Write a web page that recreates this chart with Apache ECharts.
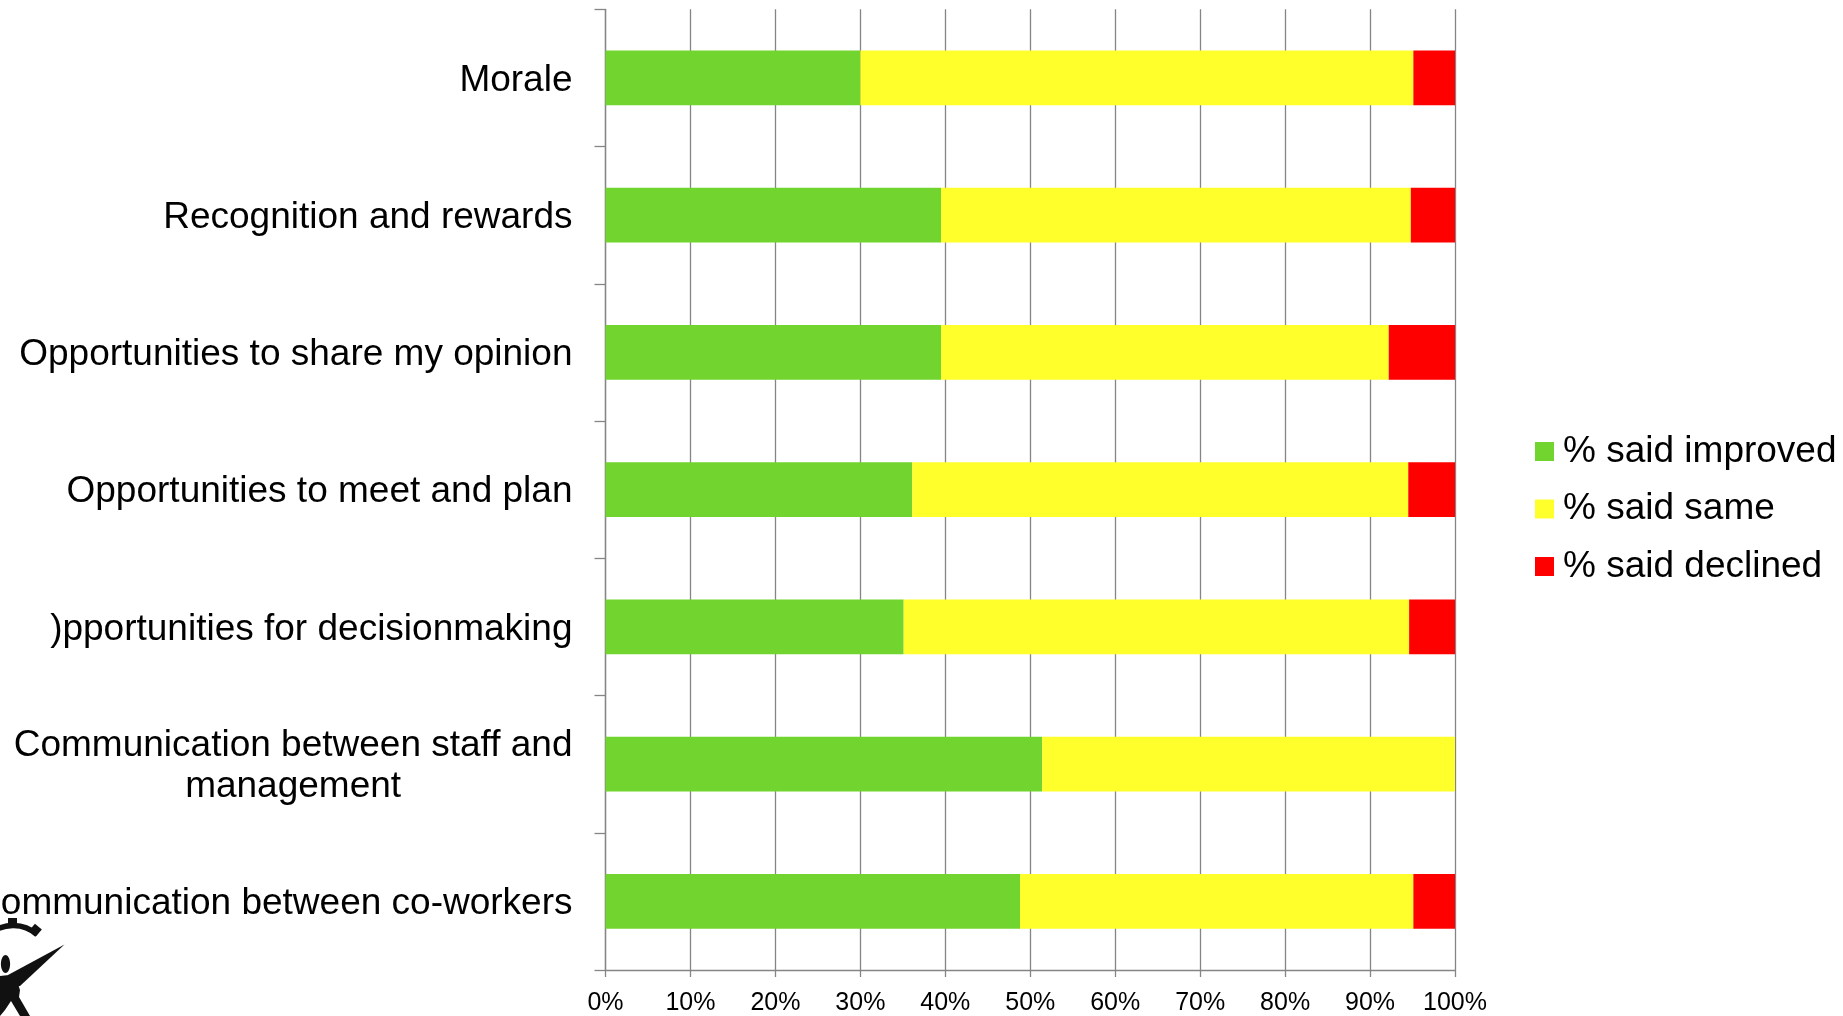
<!DOCTYPE html>
<html>
<head>
<meta charset="utf-8">
<title>Workplace change survey</title>
<script src="https://cdn.jsdelivr.net/npm/echarts@6/dist/echarts.min.js"></script>
<style>
  html, body { margin: 0; padding: 0; background: #ffffff; }
  #chart { width: 1843px; height: 1016px; }
</style>
</head>
<body>
<div id="chart"></div>
<script>
// Survey topics, top to bottom
const categories = [
  'Morale',
  'Recognition and rewards',
  'Opportunities to share my opinion',
  'Opportunities to meet and plan',
  ')pportunities for decisionmaking',
  'Communication between staff and\nmanagement',
  'Communication between co-workers'
];

// Share of respondents per answer (%)
const improved = [30.0, 39.5, 39.5, 36.1, 35.1, 51.4, 48.8];
const same     = [65.1, 55.3, 52.7, 58.4, 59.5, 48.6, 46.3];
const declined = [4.9, 5.2, 7.8, 5.5, 5.4, 0, 4.9];

const seriesNames = ['% said improved', '% said same', '% said declined'];
const xTicks = [0, 10, 20, 30, 40, 50, 60, 70, 80, 90, 100];

const FONT = '"Liberation Sans", Arial, Helvetica, sans-serif';
const GRID_GRAY = '#858585';

const chart = echarts.init(document.getElementById('chart'), null, { renderer: 'canvas' });

function barSeries(name, values, color) {
  return {
    name: name,
    type: 'bar',
    stack: 'answers',
    data: values,
    barCategoryGap: '60%',
    itemStyle: { color: color },
    emphasis: { disabled: true },
    silent: true
  };
}

// Small logo in the lower-left corner: a figure under a gear arc
const logo = [
  {
    type: 'arc',
    shape: { cx: 13, cy: 962, r: 36.5, startAngle: -2.25, endAngle: -0.85, clockwise: true },
    style: { stroke: '#111', lineWidth: 5.5, fill: null }
  },
  {
    type: 'rect',
    shape: { x: 8, y: 918, width: 9, height: 8 },
    style: { fill: '#111' }
  },
  {
    type: 'rect',
    shape: { x: -4.5, y: -4.5, width: 9, height: 9 },
    x: 35.5, y: 930, rotation: -0.7,
    style: { fill: '#111' }
  },
  {
    type: 'ellipse',
    shape: { cx: 5.5, cy: 964, rx: 4.6, ry: 9 },
    style: { fill: '#111' }
  },
  {
    type: 'polygon',
    shape: { points: [[8, 975], [64.5, 944.5], [20, 986], [10, 988]] },
    style: { fill: '#111' }
  },
  {
    type: 'polygon',
    shape: { points: [[0, 976], [9, 975], [17, 981], [20, 990], [19, 997], [30, 1016], [20, 1016], [11, 1001], [5, 1010], [0, 1016]] },
    style: { fill: '#111' }
  }
];

const option = {
  backgroundColor: '#ffffff',
  animation: false,
  textStyle: { fontFamily: FONT },
  grid: {
    left: 605.5,
    right: 388,
    top: 9.3,
    bottom: 46,
    containLabel: false,
    outerBoundsMode: 'none'
  },
  legend: {
    orient: 'vertical',
    left: 1535,
    top: 431.5,
    padding: 0,
    itemWidth: 19,
    itemHeight: 19,
    itemGap: 17.5,
    icon: 'rect',
    selectedMode: false,
    data: seriesNames,
    textStyle: {
      fontFamily: FONT,
      fontSize: 37,
      lineHeight: 40,
      color: '#000000',
      padding: [0, 0, 0, 4]
    }
  },
  xAxis: {
    type: 'value',
    min: xTicks[0],
    max: xTicks[xTicks.length - 1],
    interval: xTicks[1] - xTicks[0],
    axisLine: { show: true, lineStyle: { color: GRID_GRAY, width: 1.3 } },
    axisTick: { show: true, length: 7, lineStyle: { color: GRID_GRAY, width: 1.3 } },
    splitLine: { show: true, lineStyle: { color: GRID_GRAY, width: 1.3 } },
    axisLabel: {
      formatter: '{value}%',
      fontFamily: FONT,
      fontSize: 25,
      color: '#000000',
      margin: 21
    }
  },
  yAxis: {
    type: 'category',
    inverse: true,
    data: categories,
    axisLine: { show: true, lineStyle: { color: GRID_GRAY, width: 1.3 } },
    axisTick: { show: true, length: 11, interval: 0, lineStyle: { color: GRID_GRAY, width: 1.3 } },
    splitLine: { show: false },
    axisLabel: {
      interval: 0,
      margin: 33,
      formatter: function (value) {
        return '{c|' + value + '}';
      },
      rich: {
        c: {
          align: 'center',
          fontFamily: FONT,
          fontSize: 37,
          lineHeight: 41,
          color: '#000000',
          padding: [5, 0, 0, 0]
        }
      }
    }
  },
  series: [
    barSeries(seriesNames[0], improved, '#72d52f'),
    barSeries(seriesNames[1], same, '#ffff2b'),
    barSeries(seriesNames[2], declined, '#ff0000')
  ],
  graphic: logo
};

chart.setOption(option);
</script>
</body>
</html>
